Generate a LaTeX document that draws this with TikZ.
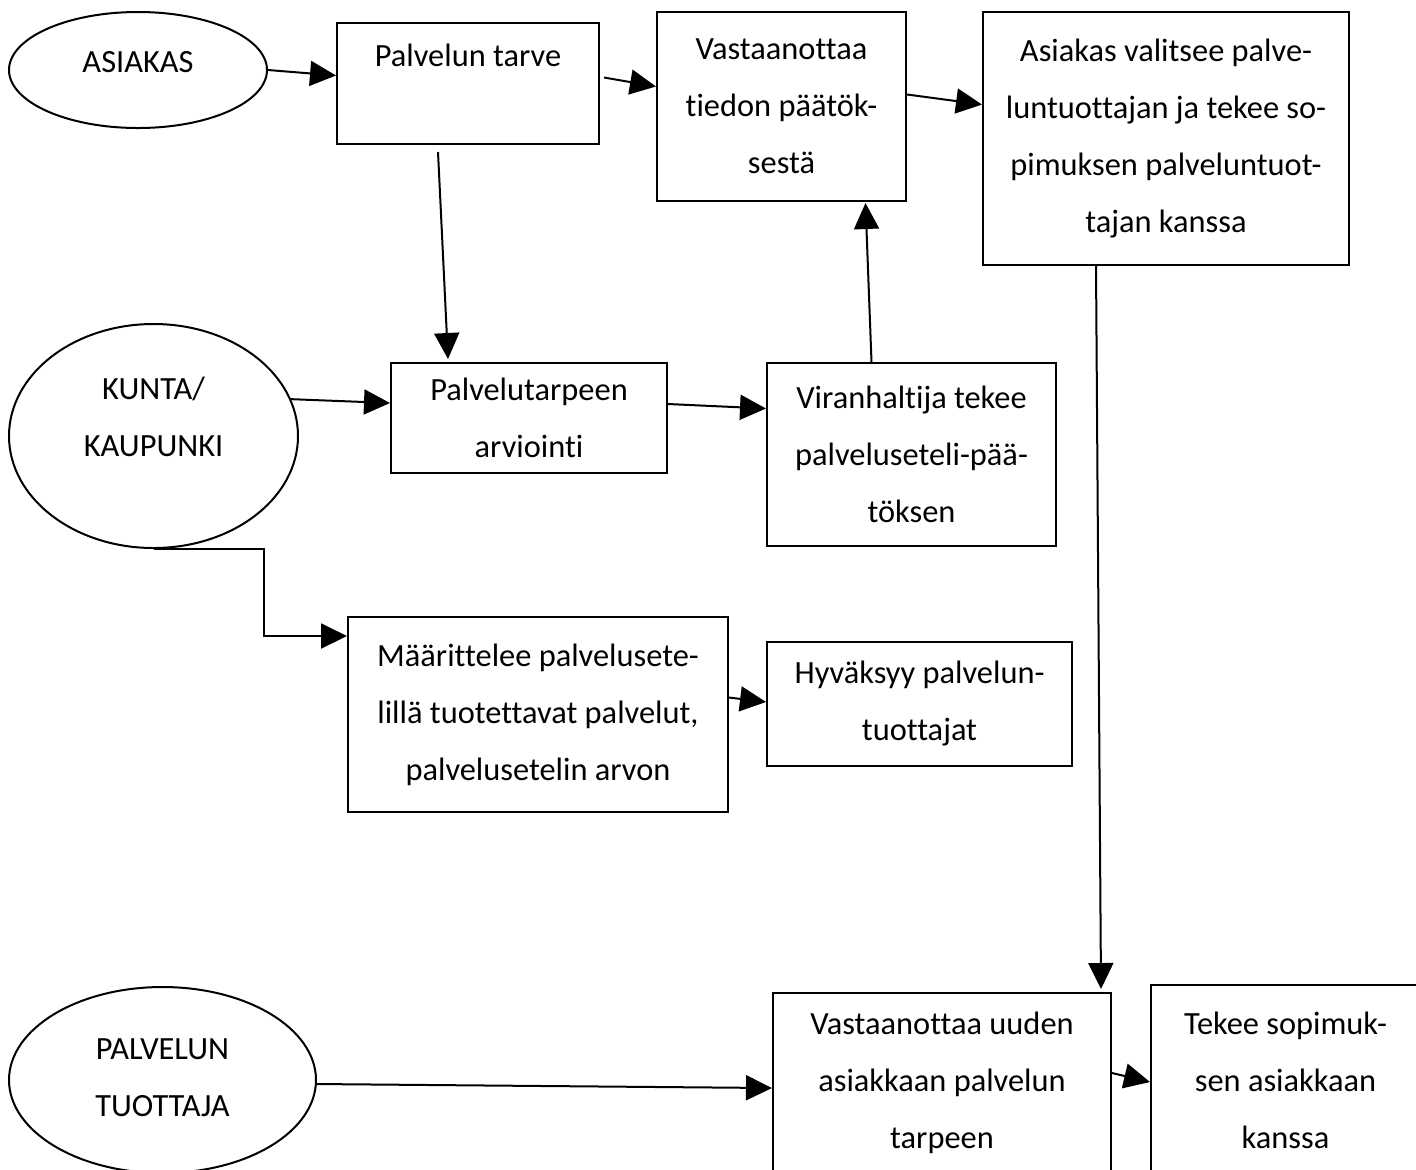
\documentclass[tikz,border=0pt]{standalone}
\usepackage{fontspec}
\setmainfont{Carlito}[Ligatures=NoCommon]
\usetikzlibrary{shapes.geometric,arrows.meta}

\begin{document}
\begin{tikzpicture}[
            x = 0.5pt, y = -0.5pt, % one unit = one pixel of the sketch
            > = {Triangle[length=13pt,width=12.5pt]}, % arrow head style
            line width = 1pt, % line style
            txt/.style = {align=center, font=\fontsize{16.2pt}{28.5pt}\selectfont},
            box/.style = {shape=rectangle, draw=black, inner sep=0pt, txt},
            oval/.style = {shape=ellipse, draw=black, inner sep=0pt}
        ]
\useasboundingbox (0,0) rectangle (1416,1169);

% asiakas
\node[oval, minimum width=129pt, minimum height=58pt,
      label={[txt, yshift=4pt]center:ASIAKAS}] (asiakas) at (138,70) {};
\node[box, minimum width=131pt, minimum height=60.5pt] (tarve) at (468,83.5) {Palvelun tarve\\ ~};
\node[box, minimum width=124.5pt, minimum height=94.5pt] (tieto) at (781.5,106.5) {Vastaanottaa\\tiedon päätök-\\sestä};
\node[box, minimum width=183pt, minimum height=126.5pt] (valinta) at (1166,138.5) {Asiakas valitsee palve-\\luntuottajan ja tekee so-\\pimuksen palveluntuot-\\tajan kanssa};

% kunta
\node[oval, minimum width=144.5pt, minimum height=112pt,
      label={[txt, yshift=9.5pt]center:{KUNTA/\\KAUPUNKI}}] (kunta) at (153.5,436) {};
\node[box, minimum width=138pt, minimum height=55pt] (arviointi) at (529,418) {Palvelutarpeen\\arviointi};
\node[box, minimum width=144.5pt, minimum height=91.5pt] (paatos) at (911.5,454.5) {Viranhaltija tekee\\palveluseteli-pää-\\töksen};
\node[box, minimum width=190pt, minimum height=97.5pt] (maarittely) at (538,714.5) {Määrittelee palvelusete-\\lillä tuotettavat palvelut,\\palvelusetelin arvon};
\node[box, minimum width=152.5pt, minimum height=62pt] (hyvaksynta) at (919.5,704) {Hyväksyy palvelun-\\tuottajat};

% tuottaja
\node[oval, minimum width=153.5pt, minimum height=93pt,
      label={[txt, yshift=1pt]center:{PALVELUN\\TUOTTAJA}}] (tuottaja) at (162.5,1080) {};
\node[box, minimum width=169pt, minimum height=90pt] (uusi) at (942,1083) {Vastaanottaa uuden\\asiakkaan palvelun\\tarpeen};
\node[box, minimum width=134.5pt, minimum height=95pt] (sopimus) at (1285.5,1080) {Tekee sopimuk-\\sen asiakkaan\\kanssa};

\coordinate (bend) at (264,636);

\draw[->] (asiakas.east) -- ([yshift=4pt]tarve.west);
\draw[->] ([xshift=2pt,yshift=3pt]tarve.east) -- ([yshift=10pt]tieto.west);
\draw[->] ([yshift=6pt]tieto.east) -- ([yshift=17pt]valinta.west);
\draw[->] ([xshift=-15pt,yshift=-3.5pt]tarve.south) -- ([xshift=-40.5pt,yshift=1.5pt]arviointi.north);
\draw[->] (kunta.15) -- ([yshift=7.5pt]arviointi.west);
\draw[->] ([yshift=7pt]arviointi.east) -- ([yshift=23pt]paatos.west);
\draw[->] ([xshift=-20pt]paatos.north) -- ([xshift=42pt,yshift=-0.5pt]tieto.south);
\draw[->] (kunta.south) -| (bend) -- (bend -| maarittely.west);
\draw[->] ([yshift=8.5pt]maarittely.east) -- ([yshift=1pt]hyvaksynta.west);
\draw[->] ([xshift=-35pt]valinta.south) -- ([xshift=79.5pt,yshift=1.5pt]uusi.north);
\draw[->] ([yshift=-2pt]tuottaja.east) -- ([yshift=-2.5pt]uusi.west);
\draw[->] ([yshift=5pt]uusi.east) -- ([yshift=-1pt]sopimus.west);
\end{tikzpicture}
\end{document}
